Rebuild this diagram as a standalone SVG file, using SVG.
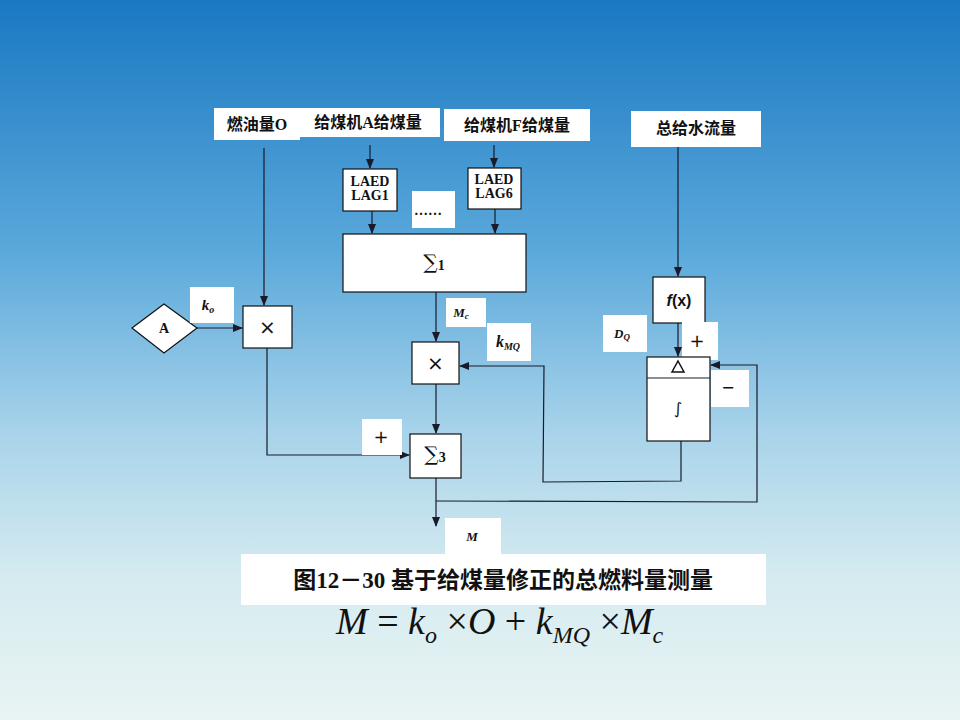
<svg xmlns="http://www.w3.org/2000/svg" width="960" height="720" viewBox="0 0 960 720">
<defs>
<linearGradient id="bg" x1="0" y1="0" x2="0" y2="1">
<stop offset="0" stop-color="#1a78c2"/>
<stop offset="0.35" stop-color="#5ba9db"/>
<stop offset="0.6" stop-color="#a8d3ea"/>
<stop offset="0.8" stop-color="#d5ebf0"/>
<stop offset="1" stop-color="#e9f4f3"/>
</linearGradient>
<marker id="arr" markerWidth="10" markerHeight="8" refX="9" refY="4" orient="auto" markerUnits="userSpaceOnUse">
<path d="M0,0 L10,4 L0,8 Z" fill="#1a1a2a"/>
</marker>
<style>
.lbl{fill:#fff;stroke:none}
.box{fill:#fff;stroke:#111;stroke-width:1.2}
.ln{fill:none;stroke:#1a1a2a;stroke-width:1.2}
.cn{font-family:"Liberation Serif","Noto Sans CJK SC",serif;font-weight:bold;font-size:16px;fill:#111}
.tm{font-family:"Liberation Serif",serif;font-weight:bold;font-size:14px;fill:#111}
.it{font-family:"Liberation Serif",serif;font-style:italic;font-weight:bold;fill:#111}
.sym{font-family:"DejaVu Sans",sans-serif;fill:#111}
.sig{font-family:"DejaVu Serif",serif;font-weight:normal;font-size:20px}
</style>
</defs>
<rect x="0" y="0" width="960" height="720" fill="url(#bg)"/>

<g id="connectors">
<line class="ln" x1="264" y1="148" x2="264" y2="305" marker-end="url(#arr)"/>
<line class="ln" x1="370" y1="145" x2="370" y2="168" marker-end="url(#arr)"/>
<line class="ln" x1="494" y1="145" x2="494" y2="167" marker-end="url(#arr)"/>
<line class="ln" x1="372" y1="211" x2="372" y2="233" marker-end="url(#arr)"/>
<line class="ln" x1="495" y1="209" x2="495" y2="233" marker-end="url(#arr)"/>
<line class="ln" x1="197" y1="328" x2="242" y2="328" marker-end="url(#arr)"/>
<polyline class="ln" points="267,348 267,455 409,455" marker-end="url(#arr)"/>
<line class="ln" x1="436" y1="292" x2="436" y2="341" marker-end="url(#arr)"/>
<line class="ln" x1="436" y1="384" x2="436" y2="433" marker-end="url(#arr)"/>
<polyline class="ln" points="681,441 681,481 543,482 544,366 460,366" marker-end="url(#arr)"/>
<line class="ln" x1="436" y1="478" x2="436" y2="526" marker-end="url(#arr)"/>
<polyline class="ln" points="436,501 757,502 757,365 711,365" marker-end="url(#arr)"/>
<line class="ln" x1="678" y1="147" x2="678" y2="276" marker-end="url(#arr)"/>
<line class="ln" x1="678" y1="323" x2="678" y2="356" marker-end="url(#arr)"/>
</g>

<g id="n-fuel">
<rect class="lbl" x="214" y="108" width="86" height="32"/>
<text class="cn" x="257" y="130" text-anchor="middle">燃油量O</text>
</g>
<g id="n-feederA">
<rect class="lbl" x="300" y="108" width="140" height="29"/>
<text class="cn" x="368" y="128" text-anchor="middle">给煤机A给煤量</text>
</g>
<g id="n-feederF">
<rect class="lbl" x="444" y="109" width="146" height="32"/>
<text class="cn" x="517" y="131" text-anchor="middle">给煤机F给煤量</text>
</g>
<g id="n-water">
<rect class="lbl" x="631" y="111" width="130" height="36"/>
<text class="cn" x="696" y="134" text-anchor="middle">总给水流量</text>
</g>
<g id="n-lag1">
<rect class="box" x="343" y="169" width="54" height="42"/>
<text class="tm" x="370" y="186" text-anchor="middle">LAED</text>
<text class="tm" x="370" y="200" text-anchor="middle">LAG1</text>
</g>
<g id="n-lag6">
<rect class="box" x="468" y="168" width="53" height="41"/>
<text class="tm" x="494" y="184" text-anchor="middle">LAED</text>
<text class="tm" x="494" y="198" text-anchor="middle">LAG6</text>
</g>
<g id="n-dots">
<rect class="lbl" x="412" y="191" width="43" height="37"/>
<text class="tm" x="428" y="215" text-anchor="middle">……</text>
</g>
<g id="n-sum1">
<rect class="box" x="343" y="234" width="183" height="58"/>
<text class="tm" x="434" y="270" text-anchor="middle" font-size="19"><tspan class="sig" dy="-1">∑</tspan><tspan dy="1">1</tspan></text>
</g>
<g id="n-A">
<polygon class="box" points="132,328 164,304 197,328 164,353"/>
<text class="tm" x="164" y="333" text-anchor="middle" font-size="13">A</text>
</g>
<g id="n-ko">
<rect class="lbl" x="190" y="287" width="44" height="36"/>
<text class="it" x="208" y="310" text-anchor="middle" font-size="15">k<tspan font-size="10" dy="3">o</tspan></text>
</g>
<g id="n-mul1">
<rect class="box" x="243" y="306" width="49" height="42"/>
<text class="sym" x="267.5" y="334" text-anchor="middle" font-size="20">×</text>
</g>
<g id="n-Mc">
<rect class="lbl" x="446" y="298" width="40" height="29"/>
<text class="it" x="461" y="317" text-anchor="middle" font-size="13">M<tspan font-size="9" dy="2">c</tspan></text>
</g>
<g id="n-kMQ">
<rect class="lbl" x="487" y="323" width="44" height="38"/>
<text class="it" x="508" y="347" text-anchor="middle" font-size="16">k<tspan font-size="10" dy="3">MQ</tspan></text>
</g>
<g id="n-mul2">
<rect class="box" x="412" y="342" width="47" height="42"/>
<text class="sym" x="435.5" y="370" text-anchor="middle" font-size="20">×</text>
</g>
<g id="n-plus1">
<rect class="lbl" x="362" y="419" width="40" height="36"/>
<text class="sym" x="381" y="443" text-anchor="middle" font-size="18">+</text>
</g>
<g id="n-sum3">
<rect class="box" x="410" y="434" width="51" height="44"/>
<text class="tm" x="435" y="462" text-anchor="middle" font-size="18"><tspan class="sig" dy="-1">∑</tspan><tspan dy="1">3</tspan></text>
</g>
<g id="n-M">
<rect class="lbl" x="445" y="518" width="56" height="40"/>
<text class="it" x="472" y="541" text-anchor="middle" font-size="13">M</text>
</g>
<g id="n-fx">
<rect class="box" x="653" y="277" width="52" height="46"/>
<text x="679" y="306" text-anchor="middle" font-family="Liberation Sans,sans-serif" font-size="16" font-weight="bold" fill="#111"><tspan font-style="italic">f</tspan>(x)</text>
</g>
<g id="n-DQ">
<rect class="lbl" x="603" y="315" width="44" height="37"/>
<text class="it" x="622" y="338" text-anchor="middle" font-size="13">D<tspan font-size="9" dy="2">Q</tspan></text>
</g>
<g id="n-plus2">
<rect class="lbl" x="682" y="322" width="36" height="38"/>
<text class="sym" x="697" y="347" text-anchor="middle" font-size="18">+</text>
</g>
<g id="n-integ">
<rect class="box" x="647" y="357" width="63" height="84"/>
<line class="ln" x1="647" y1="378" x2="710" y2="378"/>
<polygon points="678,361 684,372 672,372" fill="none" stroke="#111" stroke-width="1.5"/>
<text class="sym" x="678" y="414" text-anchor="middle" font-size="16">∫</text>
</g>
<g id="n-minus">
<rect class="lbl" x="711" y="370" width="38" height="37"/>
<text class="sym" x="728" y="393" text-anchor="middle" font-size="16">−</text>
</g>
<g id="caption">
<rect class="lbl" x="241" y="554" width="525" height="51"/>
<text x="503" y="588" text-anchor="middle" font-family="Liberation Serif,'Noto Sans CJK SC',serif" font-weight="bold" font-size="23" fill="#111">图12－30 基于给煤量修正的总燃料量测量</text>
</g>
<g id="formula">
<text x="336" y="634" font-family="Liberation Serif,serif" font-size="38" fill="#111"><tspan font-style="italic">M</tspan> = <tspan font-style="italic">k</tspan><tspan font-style="italic" font-size="24" dy="9">o</tspan><tspan dy="-9"> ×</tspan><tspan font-style="italic">O</tspan> + <tspan font-style="italic">k</tspan><tspan font-style="italic" font-size="24" dy="9">MQ</tspan><tspan dy="-9"> ×</tspan><tspan font-style="italic">M</tspan><tspan font-style="italic" font-size="24" dy="9">c</tspan></text>
</g>
</svg>
